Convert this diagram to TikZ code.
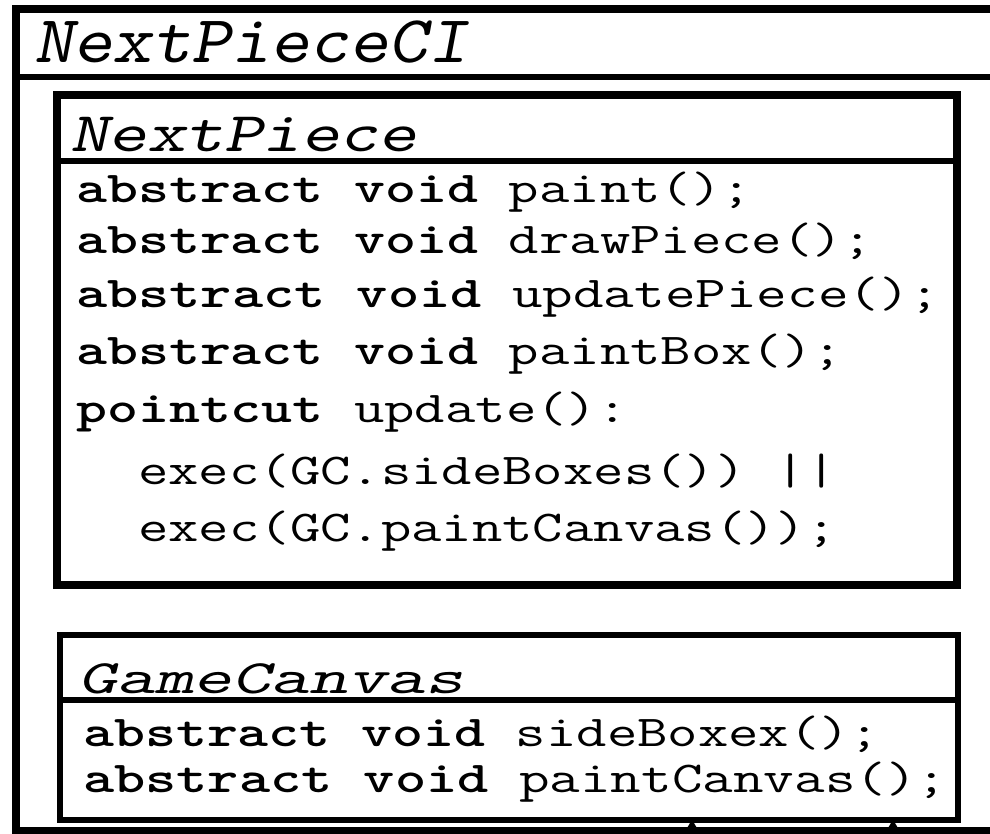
\documentclass[tikz,border=0pt]{standalone}
\usepackage{graphicx}
\usetikzlibrary{arrows.meta}
\newcommand{\SX}[2]{\scalebox{#1}[1]{#2}}
\tikzset{
  boxA/.style={draw=black, fill=none, outer sep=0pt, inner sep=0pt, anchor=north west},
  sepline/.style={line width=5.5pt},
  ttitle/.style={anchor=base west, inner sep=0pt},
  tbody/.style={anchor=base west, inner sep=0pt, font=\ttfamily\fontsize{44}{50}\selectfont},
  upArrow/.style={line width=2pt, -{Triangle[width=11pt,length=10pt]}}
}
\begin{document}
\begin{tikzpicture}[x=1pt,y=-1pt]
\useasboundingbox (0,0) rectangle (990,834);
% outer package box
\node[boxA, line width=8pt, minimum width=1000pt, minimum height=821.5pt] (outer) at (16,9) {};
\draw[sepline, line width=6pt] (outer.west |- 0,77.5) -- (outer.east |- 0,77.5);
\node[ttitle, font=\ttfamily\slshape\fontsize{67}{70}\selectfont] (outerT) at (34,63) {\SX{1.12}{NextPieceCI}};

% NextPiece box
\node[boxA, line width=8pt, minimum width=900pt, minimum height=489.5pt] (np) at (57,95.5) {};
\draw[sepline, line width=6pt] (np.west |- 0,161) -- (np.east |- 0,161);
\node[ttitle, font=\ttfamily\slshape\fontsize{56}{60}\selectfont] (npT) at (70,152) {\SX{1.31}{NextPiece}};
\node[tbody] (r1) at (76,203) {\SX{1.34}{\textbf{abstract void} paint();}};
\node[tbody] (r2) at (76,254) {\SX{1.34}{\textbf{abstract void} drawPiece();}};
\node[tbody] (r3) at (76,307) {\SX{1.35}{\textbf{abstract void} updatePiece();}};
\node[tbody] (r4) at (76,364) {\SX{1.34}{\textbf{abstract void} paintBox();}};
\node[tbody] (r5) at (76,422) {\SX{1.34}{\textbf{pointcut} update():}};
\node[tbody] (r6) at (138,484) {\SX{1.34}{exec(GC.sideBoxes()) ||}};
\node[tbody] (r7) at (138,541) {\SX{1.34}{exec(GC.paintCanvas());}};

% GameCanvas box
\node[boxA, line width=6pt, minimum width=898.5pt, minimum height=185pt] (gc) at (59.5,634.5) {};
\draw[sepline] (gc.west |- 0,700) -- (gc.east |- 0,700);
\node[ttitle, font=\ttfamily\slshape\fontsize{48}{52}\selectfont] (gcT) at (78,693) {\SX{1.53}{GameCanvas}};
\node[tbody] (g1) at (83,746) {\SX{1.34}{\textbf{abstract void} sideBoxex();}};
\node[tbody] (g2) at (83,792) {\SX{1.35}{\textbf{abstract void} paintCanvas();}};

% arrows entering from below
\coordinate (a1) at (692,860);
\coordinate (a2) at (893,860);
\draw[upArrow] (a1) -- (a1 |- gc.south);
\draw[upArrow] (a2) -- (a2 |- gc.south);
\end{tikzpicture}
\end{document}
